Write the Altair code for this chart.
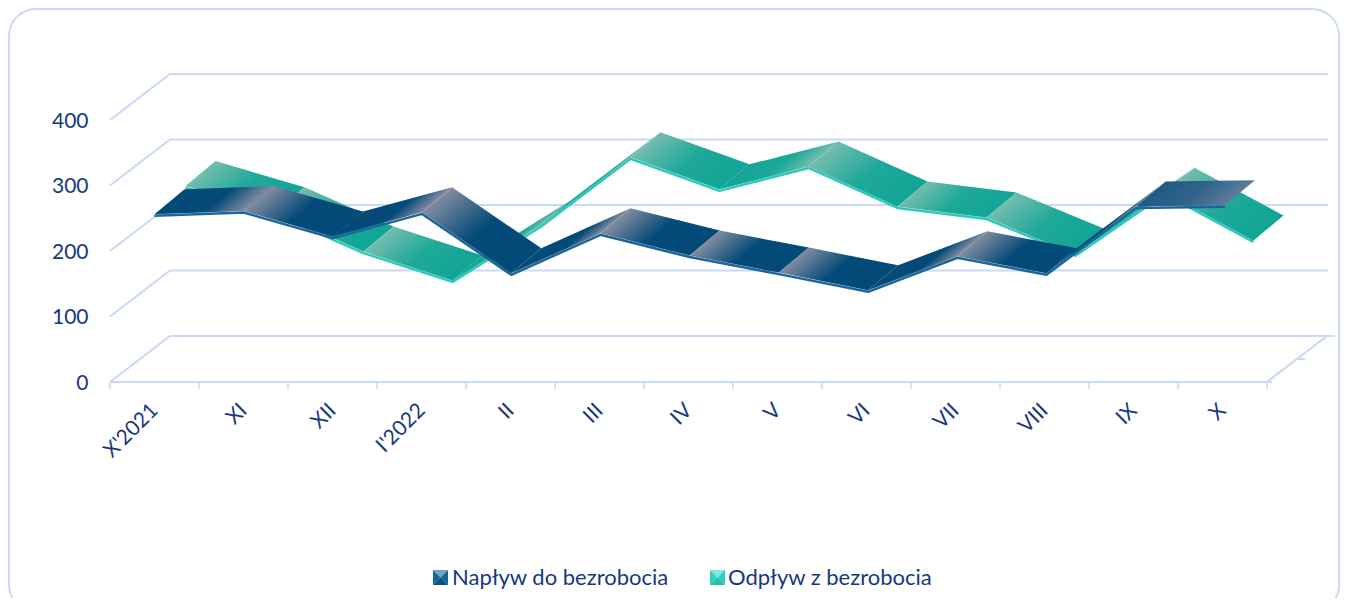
import json
import altair as alt
import pandas as pd

months = ["X'2021", "XI", "XII", "I'2022", "II", "III", "IV", "V", "VI", "VII", "VIII", "IX", "X"]
naplyw = [256, 261, 222, 259, 166, 227, 193, 167, 140, 192, 166, 268, 270]
odplyw = [264, 224, 164, 120, 205, 308, 259, 294, 233, 216, 160, 254, 181]
y_ticks = [0, 100, 200, 300, 400]
names = ["Napływ do bezrobocia", "Odpływ z bezrobocia"]

PX_X, PX_Y = 89.0, 0.655
W, H = 1218, 308
XMAX, YMAX = W / PX_X, H / PX_Y
DX, DY = 30 / PX_X, 23 / PX_Y
RIB_DY = 25 / PX_Y
INK = "#17387f"
GRID = "#cbd9f8"
FONT = "Lato"

x_axis = alt.Axis(values=[i + 0.5 for i in range(len(months))],
                  labelExpr=json.dumps(months) + "[floor(datum.value)]",
                  labelAngle=-45, labelAlign="right", labelBaseline="middle",
                  labelPadding=25, labelFontSize=21, labelFont=FONT, labelColor=INK,
                  labelOverlap=False, labelBound=False, labelFlush=False,
                  ticks=False, domain=False, grid=False, title=None, zindex=1)
y_axis = alt.Axis(values=y_ticks, labelFontSize=21, labelFont=FONT, labelColor=INK, labelOffset=1,
                  labelPadding=22, ticks=False, domain=False, grid=False, title=None, zindex=1)
X = alt.X("x:Q", scale=alt.Scale(domain=[0, XMAX], nice=False, zero=False), axis=x_axis)
Y = alt.Y("y:Q", scale=alt.Scale(domain=[0, YMAX], nice=False, zero=False), axis=y_axis)

layers = []

# card
layers.append(alt.Chart(pd.DataFrame({"a": [0]})).mark_rect(
    cornerRadius=27, fill="white", stroke=GRID, strokeWidth=2
).encode(x=alt.value(-101), x2=alt.value(1229), y=alt.value(-65), y2=alt.value(538)))

# walls: side diagonal + back gridline for each tick, floor front edge, right floor edge
rows = []
for v in y_ticks:
    for o, (px, py) in enumerate([(0, v), (2 * DX, v + 2 * DY), (XMAX, v + 2 * DY)]):
        rows.append({"g": f"w{v}", "o": o, "x": px, "y": py})
for o, (px, py) in enumerate([(0, 0), (13 + 5 / PX_X, 0)]):
    rows.append({"g": "front", "o": o, "x": px, "y": py})
for o, (px, py) in enumerate([(13, 0), (13 + 2 * DX, 2 * DY), (XMAX + 7 / PX_X, 2 * DY)]):
    rows.append({"g": "right", "o": o, "x": px, "y": py})
for o, (px, py) in enumerate([(13 + DX, DY), (13 + DX + 8 / PX_X, DY)]):
    rows.append({"g": "mid", "o": o, "x": px, "y": py})
layers.append(alt.Chart(pd.DataFrame(rows)).mark_line(stroke=GRID, strokeWidth=2.2).encode(
    x=X, y=Y, detail="g:N", order="o:Q"))

# category ticks
layers.append(alt.Chart(pd.DataFrame({"x": list(range(len(months) + 1))})).mark_rule(
    stroke=GRID, strokeWidth=1.5
).encode(x=X, y=alt.value(H), y2=alt.value(H + 7)))

# bevelled legend swatches, with the real legend's text beside them
SWATCH_X = [330.5, 607.5]
BEVELS = [
    ("M-1,-1L1,-1L0,0Z", ["#6fa2c8", "#7fe8da"]),
    ("M-1,-1L0,0L-1,1Z", ["#1a6396", "#2fd0bf"]),
    ("M1,-1L0,0L1,1Z", ["#1a6396", "#2fd0bf"]),
    ("M-1,1L0,0L1,1Z", ["#0b4f83", "#22bfae"]),
]
one = pd.DataFrame({"a": [0]})
for shape, cols in BEVELS:
    for sx, c in zip(SWATCH_X, cols):
        layers.append(alt.Chart(one).mark_point(shape=shape, filled=True, fill=c, size=225, opacity=1, strokeWidth=0)
                      .encode(x=alt.value(sx), y=alt.value(503.5)))

# legend carrier
layers.append(alt.Chart(pd.DataFrame({"n": names, "x": [0, 0], "y": [0, 0]})).mark_square(size=0).encode(
    x=X, y=Y,
    color=alt.Color("n:N", scale=alt.Scale(domain=names, range=["#1a6396", "#2fd0bf"]),
                    legend=alt.Legend(orient="none", legendX=319, legendY=493, direction="horizontal",
                                      title=None, symbolType="square", symbolSize=121, symbolOpacity=0,
                                      symbolStrokeWidth=0, labelFont=FONT, labelFontSize=22, labelColor=INK,
                                      labelOffset=1, columnPadding=36, columns=2, labelLimit=400))))


def gradient(p0, p1, light, mid, solid, up):
    """Linear gradient whose iso-lines run along the ribbon's depth direction."""
    d = (DX * PX_X, -RIB_DY * PX_Y)
    a = (p0[0] * PX_X, -p0[1] * PX_Y)
    b = (p1[0] * PX_X, -p1[1] * PX_Y)
    cs = [a, b, (a[0] + d[0], a[1] + d[1]), (b[0] + d[0], b[1] + d[1])]
    x0, y0 = min(c[0] for c in cs), min(c[1] for c in cs)
    w, h = max(c[0] for c in cs) - x0, max(c[1] for c in cs) - y0
    ua = ((a[0] - x0) / w, (a[1] - y0) / h)
    ub = ((b[0] - x0) / w, (b[1] - y0) / h)
    du = (d[0] / w, d[1] / h)
    n = (du[1], -du[0])
    s = ((ub[0] - ua[0]) * n[0] + (ub[1] - ua[1]) * n[1]) / (n[0] ** 2 + n[1] ** 2)
    if abs(s) < 0.05:
        s = 0.05 if s >= 0 else -0.05
    if up:
        stops = [(0, solid), (0.55, mid), (1, light)]
    else:
        stops = [(0, light), (0.5, mid), (1, solid)]
    return alt.LinearGradient(gradient="linear",
                              stops=[alt.GradientStop(offset=o, color=c) for o, c in stops],
                              x1=ua[0], y1=ua[1], x2=ua[0] + n[0] * s, y2=ua[1] + n[1] * s)


def ribbon(values, start, step, lift, strip, light, mid, solid, last=None):
    out = []
    xs = [start + i * step for i in range(len(values))]
    ys = [v + lift for v in values]
    sd = pd.DataFrame({"x": xs, "y": [v - 1.5 / PX_Y for v in ys], "o": range(len(xs))})
    out.append(alt.Chart(sd).mark_line(stroke=strip, strokeWidth=2.5, strokeJoin="round").encode(x=X, y=Y, order="o:Q"))
    for i in range(len(values) - 1):
        p0, p1 = (xs[i], ys[i]), (xs[i + 1], ys[i + 1])
        df = pd.DataFrame({
            "x": [p0[0], p1[0], p1[0] + DX, p0[0] + DX],
            "y": [p0[1], p1[1], p1[1] + RIB_DY, p0[1] + RIB_DY],
            "o": [0, 1, 2, 3],
        })
        cols = last if (last and i == len(values) - 2) else (light, mid, solid)
        g = gradient(p0, p1, *cols, values[i + 1] > values[i])
        out.append(alt.Chart(df).mark_line(fill=g, strokeWidth=0).encode(x=X, y=Y, order="o:Q"))
    return out


layers += ribbon(odplyw, 0.5 + DX + 1 / PX_X, 1.0, DY, "#2ec9bb", "#74bcae", "#1ea999", "#11a596")
layers += ribbon(naplyw, 0.5, 89.2 / PX_X, 0, "#1b659b", "#808b9f", "#034a78", "#034a78",
                 last=("#5f7d98", "#33648c", "#1f5a85"))

chart = alt.layer(*layers).properties(
    width=W, height=H, autosize=alt.AutoSizeParams(type="none"),
    padding={"left": 102, "top": 66, "right": 12, "bottom": 216},
    background="white",
).configure_view(stroke=None)

chart.save("out.html", embed_options={"renderer": "svg", "actions": False})
